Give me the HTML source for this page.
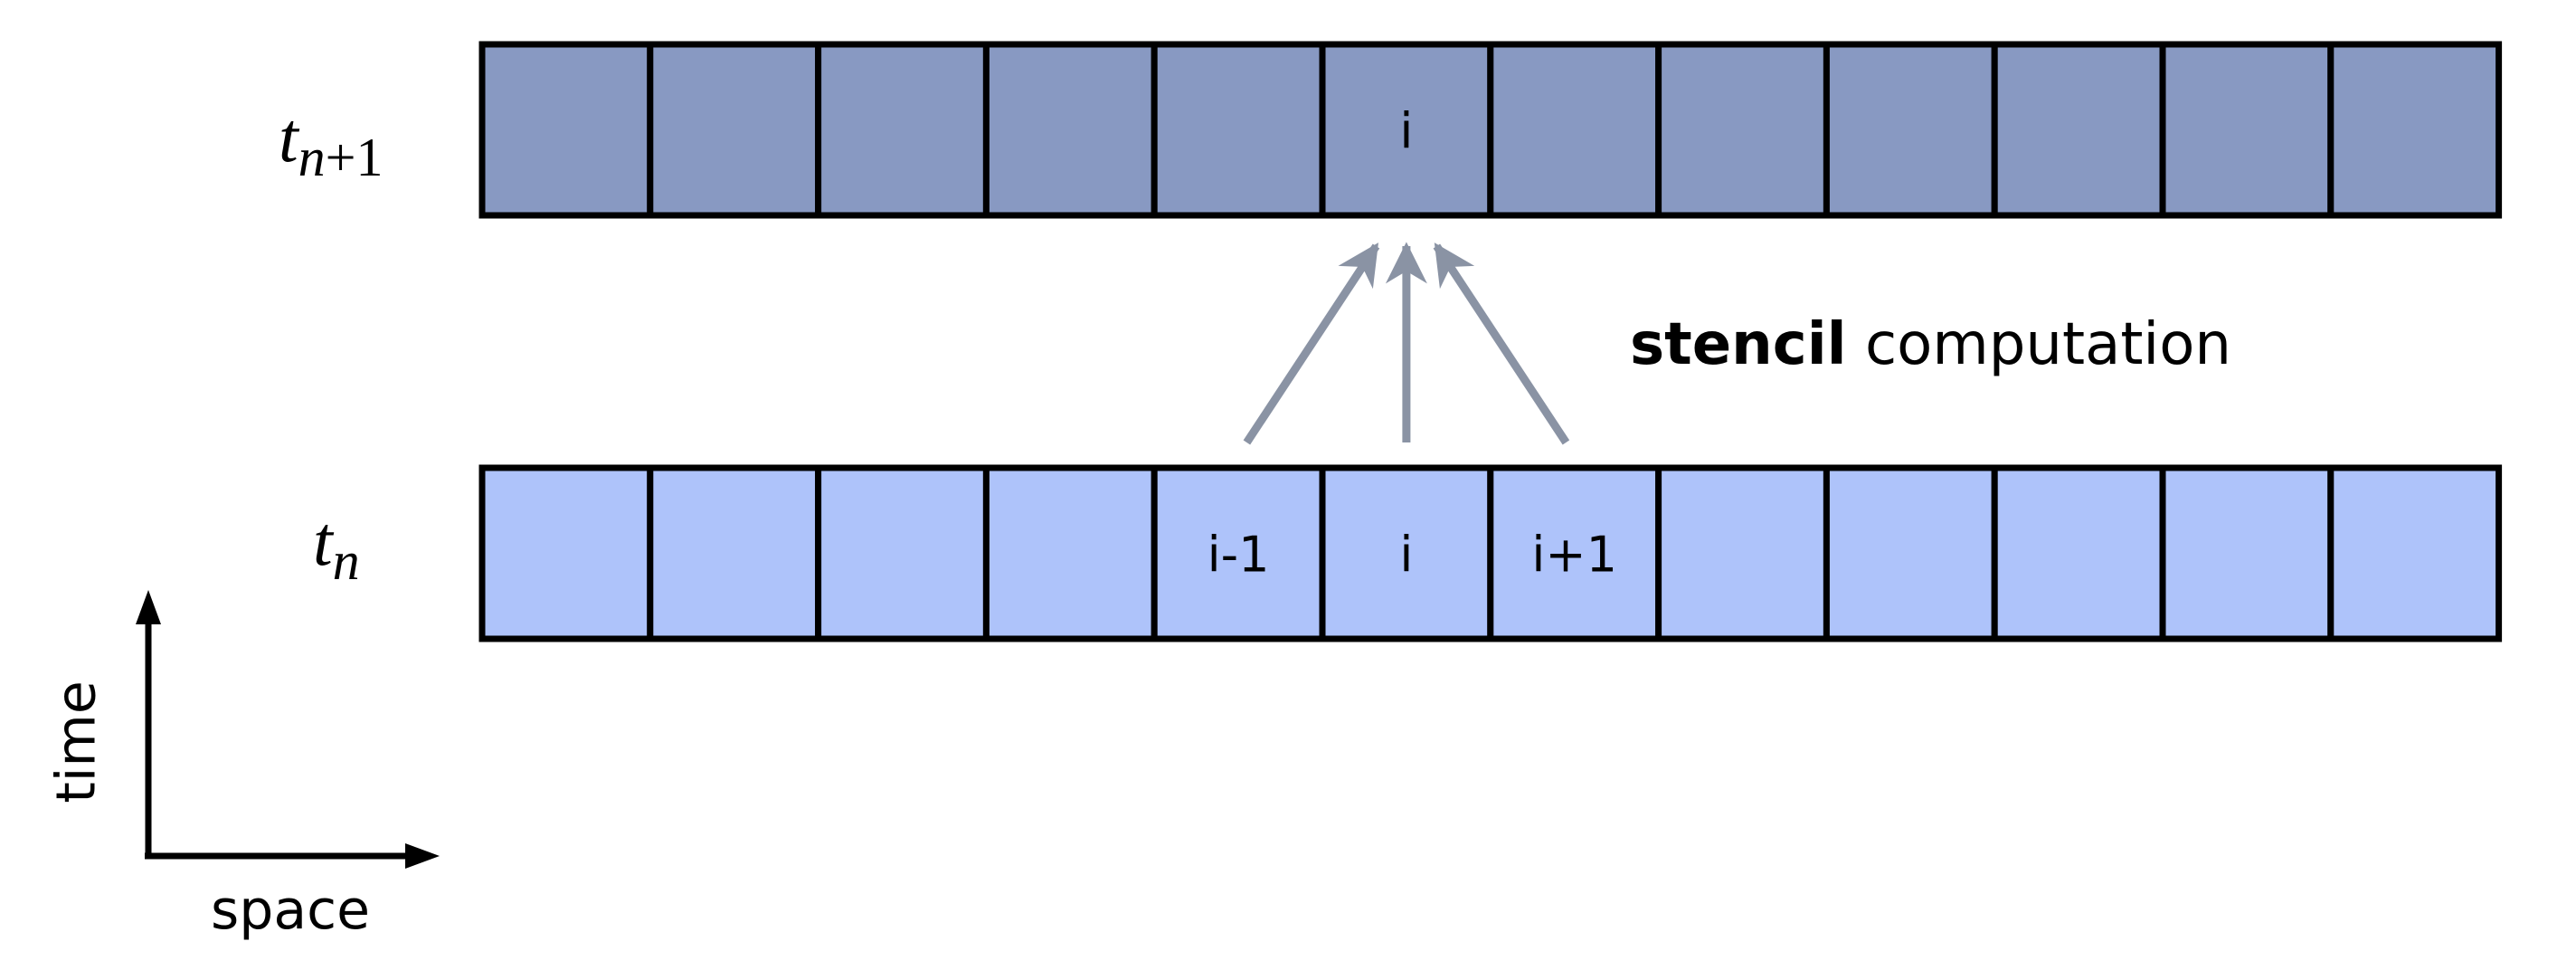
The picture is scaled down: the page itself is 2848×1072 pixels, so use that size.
<!DOCTYPE html>
<html><head><meta charset="utf-8"><style>html,body{margin:0;padding:0;background:#fff}svg{display:block}</style></head>
<body>
<svg id="chart" width="2848" height="1072" viewBox="0 0 2848 1072" xmlns="http://www.w3.org/2000/svg">
<defs>
<marker id="ga" markerWidth="46" markerHeight="46" refX="9" refY="5" orient="auto" markerUnits="userSpaceOnUse" viewBox="0 0 10 10"><path d="M0,0 L10,5 L0,10 L3,5 z" fill="#8a93a4"/></marker>
</defs>
<g id="rows"></g>
<g id="arrows"></g>
<text x="308" y="178" font-family="Liberation Serif, serif" font-style="italic" font-size="78">t<tspan font-size="60" dy="16">n</tspan><tspan font-style="normal" font-size="60">+1</tspan></text>
<text x="346" y="624" font-family="Liberation Serif, serif" font-style="italic" font-size="78">t<tspan font-size="60" dy="16">n</tspan></text>
<text x="1802" y="402" font-family="DejaVu Sans, sans-serif" font-size="64" textLength="665" lengthAdjust="spacingAndGlyphs"><tspan font-weight="bold">stencil</tspan> computation</text>
<g>
<line x1="164" y1="949" x2="164" y2="690" stroke="#000" stroke-width="7"/>
<path d="M164,652 L150,690 L178,690 z" fill="#000"/>
<line x1="160" y1="946" x2="450" y2="946" stroke="#000" stroke-width="7"/>
<path d="M486,946 L448,932 L448,960 z" fill="#000"/>
<text x="88" y="820" transform="rotate(-90 88 820)" text-anchor="middle" dominant-baseline="middle" font-family="DejaVu Sans, sans-serif" font-size="60">time</text>
<text x="321" y="1026" text-anchor="middle" font-family="DejaVu Sans, sans-serif" font-size="60">space</text>
</g>
</svg>
<script>
const cellIndices = [0,1,2,3,4,5,6,7,8,9,10,11];
const topLabels = ["","","","","","i","","","","","",""];
const bottomLabels = ["","","","","i-1","i","i+1","","","","",""];
const stencilSources = [4,5,6];
const target = 5;
const NS="http://www.w3.org/2000/svg";
const x0=533, cw=185.8, rows=[{y:49,h:189,fill:"#8899c2",labels:topLabels,name:"row-t-n-plus-1"},{y:517,h:189,fill:"#aec3fa",labels:bottomLabels,name:"row-t-n"}];
const g=document.getElementById('rows');
rows.forEach(r=>{
  cellIndices.forEach(i=>{
    const rc=document.createElementNS(NS,'rect');
    rc.setAttribute('x',x0+i*cw);rc.setAttribute('y',r.y);rc.setAttribute('width',cw);rc.setAttribute('height',r.h);
    rc.setAttribute('fill',r.fill);rc.setAttribute('stroke','#000');rc.setAttribute('stroke-width','7');
    
    
    g.appendChild(rc);
    if(r.labels[i]){
      const t=document.createElementNS(NS,'text');
      t.setAttribute('x',x0+i*cw+cw/2);t.setAttribute('y',r.y+r.h/2+20);
      t.setAttribute('text-anchor','middle');t.setAttribute('font-family','DejaVu Sans, sans-serif');t.setAttribute('font-size','54');
      t.textContent=r.labels[i];
      
      
      g.appendChild(t);
    }
  });
});
const ag=document.getElementById('arrows');
const tx=x0+target*cw+cw/2;
stencilSources.forEach(s=>{
  const sx=x0+s*cw+cw/2;
  const ex=tx+(sx-tx)*0.18;
  const l=document.createElementNS(NS,'line');
  l.setAttribute('x1',tx+(sx-tx)*0.95);l.setAttribute('y1',489);l.setAttribute('x2',ex);l.setAttribute('y2',272);
  l.setAttribute('stroke','#8a93a4');l.setAttribute('stroke-width','9');l.setAttribute('marker-end','url(#ga)');
  
  
  ag.appendChild(l);
});
</script>
</body></html>
